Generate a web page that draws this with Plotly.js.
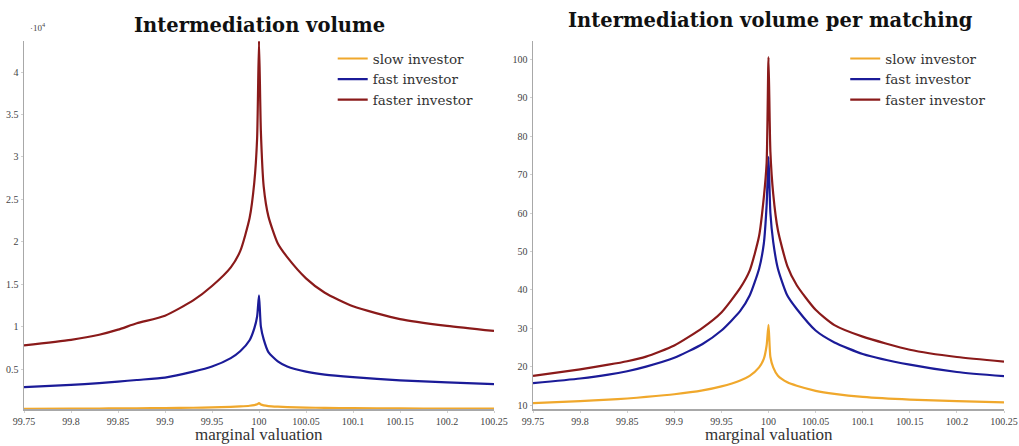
<!DOCTYPE html>
<html>
<head>
<meta charset="utf-8">
<script src="https://cdn.plot.ly/plotly-3.0.1.min.js"></script>
<style>html,body{margin:0;padding:0;background:#fff;}#chart{width:1019px;height:446px;}</style>
</head>
<body>
<div id="chart"></div>
<script>
// marginal valuation grid
const valuation = [99.75, 99.8, 99.83, 99.85, 99.87, 99.9, 99.93, 99.95, 99.97, 99.98, 99.99, 99.995, 99.998, 100,
  100.002, 100.005, 100.01, 100.02, 100.03, 100.05, 100.07, 100.1, 100.15, 100.2, 100.25];

// Intermediation volume (units of 10^4)
const volSlow   = [0.033, 0.035, 0.036, 0.037, 0.039, 0.041, 0.045, 0.049, 0.055, 0.060, 0.068, 0.076, 0.085, 0.10,
  0.082, 0.072, 0.064, 0.057, 0.052, 0.047, 0.043, 0.040, 0.037, 0.035, 0.034];
const volFast   = [0.288, 0.315, 0.335, 0.353, 0.372, 0.40, 0.47, 0.53, 0.63, 0.71, 0.84, 0.98, 1.12, 1.37,
  1.0, 0.85, 0.70, 0.59, 0.53, 0.47, 0.435, 0.405, 0.368, 0.343, 0.322];
const volFaster = [0.78, 0.845, 0.905, 0.965, 1.04, 1.13, 1.31, 1.48, 1.70, 1.89, 2.28, 2.70, 3.22, 4.37,
  3.3, 2.65, 2.3, 1.98, 1.82, 1.57, 1.40, 1.24, 1.09, 1.01, 0.95];

// Intermediation volume per matching
const perSlow   = [10.5, 11.0, 11.4, 11.7, 12.1, 12.8, 13.8, 14.85, 16.4, 17.6, 19.8, 22.0, 25.5, 30.9,
  22.5, 19.8, 17.6, 15.9, 15.0, 13.7, 12.9, 12.1, 11.4, 11.0, 10.7];
const perFast   = [15.7, 16.9, 17.9, 18.8, 20.0, 22.3, 25.9, 29.4, 34.5, 38.5, 45.5, 52.0, 62.0, 74.6,
  60.0, 52.5, 45.5, 38.5, 35.0, 29.4, 26.3, 23.3, 20.5, 18.6, 17.5];
const perFaster = [17.6, 19.3, 20.5, 21.4, 22.6, 25.5, 30.1, 34.1, 40.5, 45.0, 54.0, 64.0, 73.0, 100.6,
  76.0, 65.0, 55.5, 46.2, 41.2, 34.8, 30.8, 27.8, 24.4, 22.5, 21.3];

const seriesNames = ['slow investor', 'fast investor', 'faster investor'];
const xTickVals = [99.75, 99.8, 99.85, 99.9, 99.95, 100, 100.05, 100.1, 100.15, 100.2, 100.25];
const xTickText = ['99.75', '99.8', '99.85', '99.9', '99.95', '100', '100.05', '100.1', '100.15', '100.2', '100.25'];
const leftYTicks = [0.5, 1, 1.5, 2, 2.5, 3, 3.5, 4];
const leftYText = ['0.5', '1', '1.5', '2', '2.5', '3', '3.5', '4'];
const rightYTicks = [10, 20, 30, 40, 50, 60, 70, 80, 90, 100];

const colors = ['#f0a82c', '#1b1b98', '#8a1a1a'];
const serif = 'Liberation Serif, DejaVu Serif, serif';

function tr(y, i, xa, ya, leg) {
  return {x: valuation, y: y, xaxis: xa, yaxis: ya, type: 'scatter', mode: 'lines',
    name: seriesNames[i], legend: leg, line: {color: colors[i], width: 2.2, shape: 'spline', smoothing: 0.6}};
}
const data = [
  tr(volSlow, 0, 'x', 'y', 'legend'), tr(volFast, 1, 'x', 'y', 'legend'), tr(volFaster, 2, 'x', 'y', 'legend'),
  tr(perSlow, 0, 'x2', 'y2', 'legend2'), tr(perFast, 1, 'x2', 'y2', 'legend2'), tr(perFaster, 2, 'x2', 'y2', 'legend2')
];

const axBase = {showgrid: false, zeroline: false, showline: true, linecolor: '#a8a8a8', linewidth: 1.5,
  ticks: 'outside', ticklen: 2, tickcolor: '#d0d0d0', tickfont: {family: serif, size: 10, color: '#444'}};
const xBase = Object.assign({}, axBase, {range: [99.75, 100.25], tickvals: xTickVals, ticktext: xTickText});

const legBase = {bgcolor: 'rgba(0,0,0,0)', font: {family: 'DejaVu Serif, serif', size: 13.5, color: '#333'},
  xanchor: 'left', yanchor: 'top', tracegroupgap: 0, itemwidth: 30};

const layout = {
  width: 1019, height: 446,
  margin: {l: 24, r: 15, t: 41, b: 37},
  paper_bgcolor: '#fff', plot_bgcolor: '#fff',
  xaxis: Object.assign({}, xBase, {domain: [0, 0.4796], anchor: 'y'}),
  xaxis2: Object.assign({}, xBase, {domain: [0.5194, 1], anchor: 'y2'}),
  yaxis: Object.assign({}, axBase, {domain: [0, 1], anchor: 'x', range: [0.03, 4.367],
    tickvals: leftYTicks, ticktext: leftYText}),
  yaxis2: Object.assign({}, axBase, {domain: [0, 1], anchor: 'x2', range: [8.96, 104.8],
    tickvals: rightYTicks}),
  legend: Object.assign({}, legBase, {x: 0.315, y: 0.994}),
  legend2: Object.assign({}, legBase, {x: 0.838, y: 0.994}),
  showlegend: true,
  annotations: [
    {text: '<b>Intermediation volume</b>', xref: 'paper', yref: 'paper', x: 0.240, y: 1, yshift: 16,
      xanchor: 'center', yanchor: 'middle', showarrow: false, font: {family: 'DejaVu Serif, serif', size: 19.5, color: '#111'}},
    {text: '<b>Intermediation volume per matching</b>', xref: 'paper', yref: 'paper', x: 0.762, y: 1, yshift: 21,
      xanchor: 'center', yanchor: 'middle', showarrow: false, font: {family: 'DejaVu Serif, serif', size: 19.5, color: '#111'}},
    {text: '·10<sup>4</sup>', xref: 'paper', yref: 'paper', x: 0.004, y: 1, yshift: 14,
      xanchor: 'left', yanchor: 'middle', showarrow: false, font: {family: serif, size: 9, color: '#444'}},
    {text: 'marginal valuation', xref: 'paper', yref: 'paper', x: 0.240, y: 0, yshift: -36.5,
      xanchor: 'center', yanchor: 'bottom', showarrow: false, font: {family: serif, size: 17, color: '#333'}},
    {text: 'marginal valuation', xref: 'paper', yref: 'paper', x: 0.7597, y: 0, yshift: -36.5,
      xanchor: 'center', yanchor: 'bottom', showarrow: false, font: {family: serif, size: 17, color: '#333'}}
  ]
};

Plotly.newPlot('chart', data, layout, {displayModeBar: false, staticPlot: true});
</script>
</body>
</html>
